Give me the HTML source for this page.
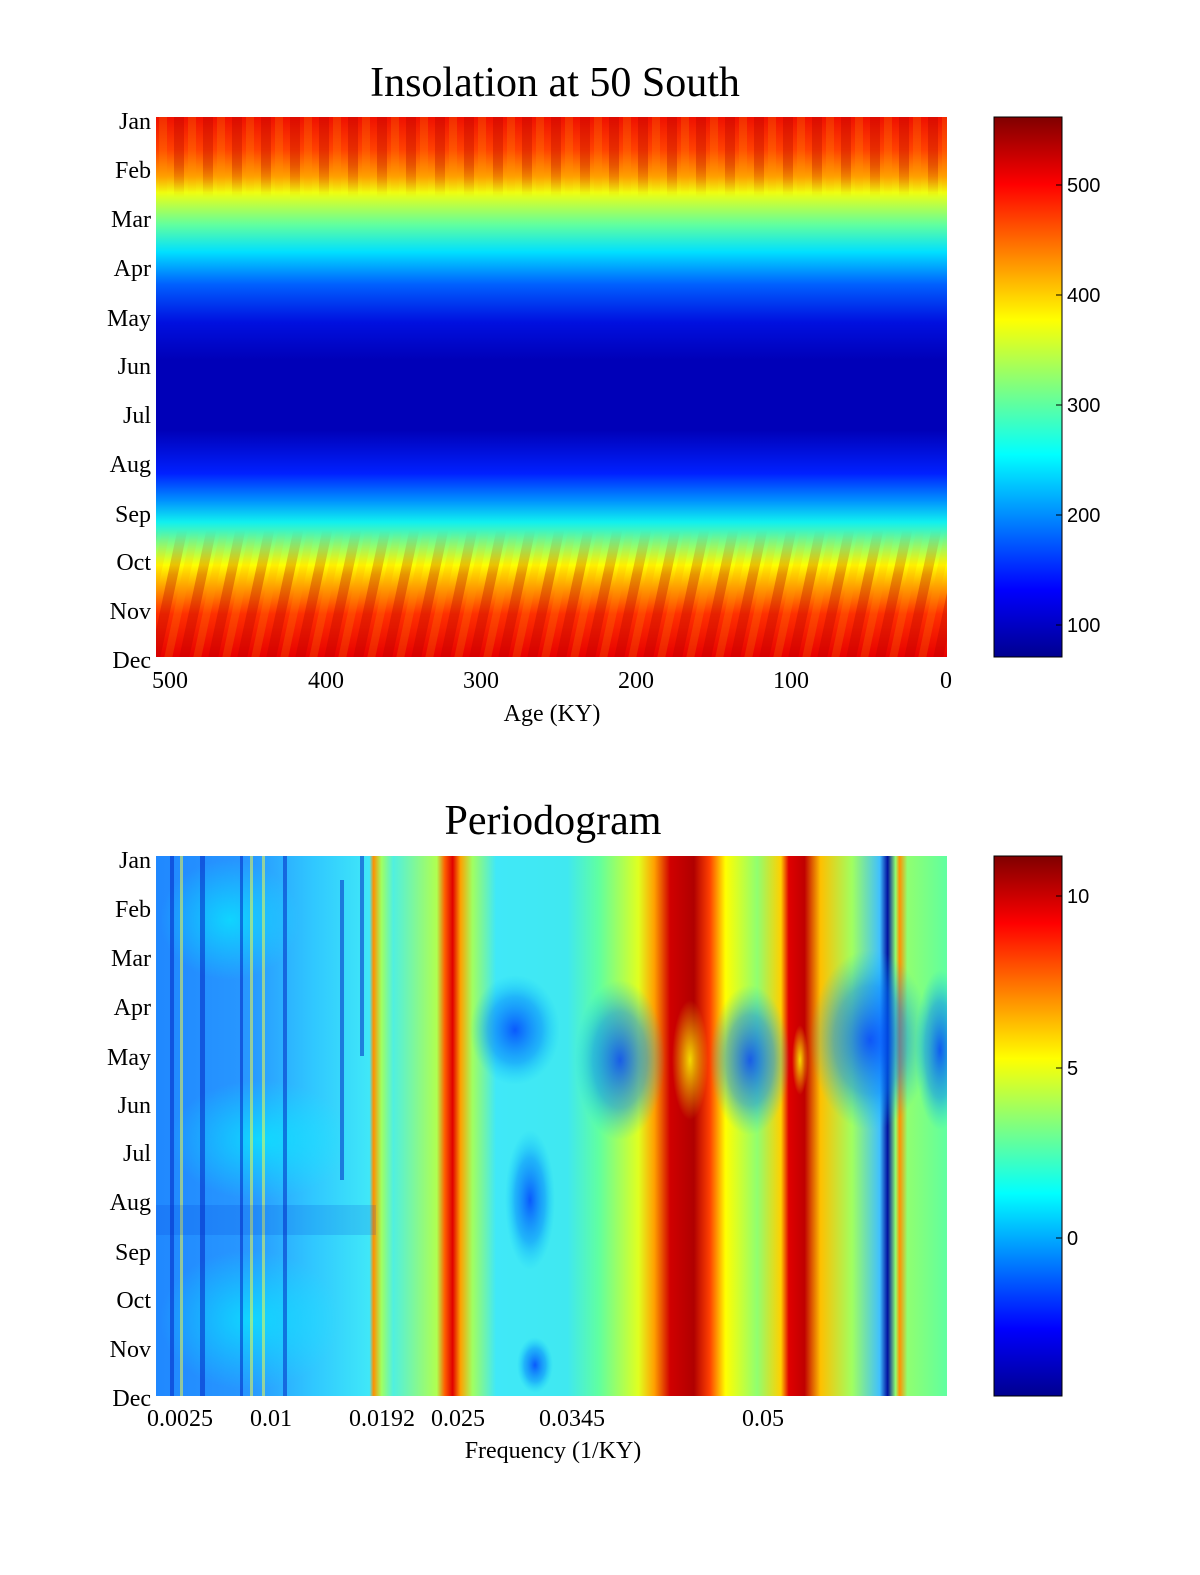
<!DOCTYPE html>
<html><head><meta charset="utf-8"><style>
body{margin:0;background:#fff;}
svg{display:block}
.s{font-family:"Liberation Serif",serif;fill:#000}
.a{font-family:"Liberation Sans",sans-serif;fill:#000;font-size:20px}
</style></head><body>
<svg width="1200" height="1575" viewBox="0 0 1200 1575" xmlns="http://www.w3.org/2000/svg">
<defs>
<linearGradient id="topv" x1="0" y1="0" x2="0" y2="1">
<stop offset="0" stop-color="#f01000"/>
<stop offset="0.06" stop-color="#ff4000"/>
<stop offset="0.11" stop-color="#ffa000"/>
<stop offset="0.14" stop-color="#f0ff10"/>
<stop offset="0.20" stop-color="#60ffa0"/>
<stop offset="0.25" stop-color="#00e0ff"/>
<stop offset="0.31" stop-color="#0060ff"/>
<stop offset="0.38" stop-color="#0010e0"/>
<stop offset="0.45" stop-color="#0000b8"/>
<stop offset="0.58" stop-color="#0000b8"/>
<stop offset="0.66" stop-color="#0020ff"/>
<stop offset="0.71" stop-color="#0090ff"/>
<stop offset="0.75" stop-color="#10f0f0"/>
<stop offset="0.80" stop-color="#a0ff60"/>
<stop offset="0.83" stop-color="#ffff00"/>
<stop offset="0.87" stop-color="#ffa000"/>
<stop offset="0.92" stop-color="#ff3000"/>
<stop offset="1" stop-color="#e80000"/>
</linearGradient>
<linearGradient id="jet" x1="0" y1="1" x2="0" y2="0">
<stop offset="0" stop-color="#00008f"/>
<stop offset="0.125" stop-color="#0000ff"/>
<stop offset="0.375" stop-color="#00ffff"/>
<stop offset="0.625" stop-color="#ffff00"/>
<stop offset="0.875" stop-color="#ff0000"/>
<stop offset="1" stop-color="#800000"/>
</linearGradient>
<pattern id="str" width="29" height="10" patternUnits="userSpaceOnUse">
<rect x="0" y="0" width="10" height="10" fill="#b00000" opacity="0.3"/>
<rect x="14" y="0" width="8" height="10" fill="#ffa000" opacity="0.2"/>
</pattern>
<pattern id="str2" width="29" height="10" patternUnits="userSpaceOnUse" patternTransform="skewX(-12)">
<rect x="0" y="0" width="10" height="10" fill="#b00000" opacity="0.3"/>
<rect x="14" y="0" width="8" height="10" fill="#ffa000" opacity="0.2"/>
</pattern>
<linearGradient id="fadeT" x1="0" y1="0" x2="0" y2="1">
<stop offset="0" stop-color="#fff"/><stop offset="0.6" stop-color="#fff"/><stop offset="1" stop-color="#000"/>
</linearGradient>
<linearGradient id="fadeB" x1="0" y1="0" x2="0" y2="1">
<stop offset="0" stop-color="#000"/><stop offset="0.35" stop-color="#fff"/><stop offset="1" stop-color="#fff"/>
</linearGradient>
<mask id="mT"><rect x="156" y="117" width="791" height="80" fill="url(#fadeT)"/></mask>
<mask id="mB"><rect x="156" y="530" width="791" height="127" fill="url(#fadeB)"/></mask>
<linearGradient id="bot" x1="0" y1="0" x2="1" y2="0">
<stop offset="0" stop-color="#2088ff"/>
<stop offset="0.12" stop-color="#2898ff"/>
<stop offset="0.20" stop-color="#30c8ff"/>
<stop offset="0.27" stop-color="#40e8f8"/>
<stop offset="0.275" stop-color="#ff9000"/>
<stop offset="0.285" stop-color="#a0ff60"/>
<stop offset="0.30" stop-color="#50f0e0"/>
<stop offset="0.355" stop-color="#b0ff50"/>
<stop offset="0.365" stop-color="#ff6000"/>
<stop offset="0.375" stop-color="#e00000"/>
<stop offset="0.385" stop-color="#ffa000"/>
<stop offset="0.40" stop-color="#a0ff60"/>
<stop offset="0.43" stop-color="#40e8f8"/>
<stop offset="0.52" stop-color="#40e8f0"/>
<stop offset="0.56" stop-color="#60ffa0"/>
<stop offset="0.61" stop-color="#e0ff20"/>
<stop offset="0.63" stop-color="#ffa000"/>
<stop offset="0.65" stop-color="#d00000"/>
<stop offset="0.68" stop-color="#b00000"/>
<stop offset="0.70" stop-color="#ff4000"/>
<stop offset="0.72" stop-color="#ffff00"/>
<stop offset="0.76" stop-color="#90ff70"/>
<stop offset="0.79" stop-color="#ffd000"/>
<stop offset="0.80" stop-color="#e00000"/>
<stop offset="0.82" stop-color="#c00000"/>
<stop offset="0.84" stop-color="#ffc000"/>
<stop offset="0.88" stop-color="#a0ff60"/>
<stop offset="0.915" stop-color="#40c0ff"/>
<stop offset="0.925" stop-color="#0010a0"/>
<stop offset="0.935" stop-color="#90ff70"/>
<stop offset="0.94" stop-color="#ff9000"/>
<stop offset="0.95" stop-color="#90ff70"/>
<stop offset="1" stop-color="#60ffa0"/>
</linearGradient>
<radialGradient id="bl"><stop offset="0" stop-color="#0040ff" stop-opacity="0.85"/><stop offset="0.6" stop-color="#0080ff" stop-opacity="0.5"/><stop offset="1" stop-color="#00c0ff" stop-opacity="0"/></radialGradient>
<radialGradient id="ye"><stop offset="0" stop-color="#ffff00" stop-opacity="0.85"/><stop offset="1" stop-color="#ffff00" stop-opacity="0"/></radialGradient>
<radialGradient id="cy"><stop offset="0" stop-color="#00ffff" stop-opacity="0.6"/><stop offset="1" stop-color="#00ffff" stop-opacity="0"/></radialGradient>
<clipPath id="cb"><rect x="156" y="856" width="791" height="540"/></clipPath>
</defs>

<text class="s" x="555" y="96" font-size="42" text-anchor="middle">Insolation at 50 South</text>
<rect x="156" y="117" width="791" height="540" fill="url(#topv)"/>
<rect x="156" y="117" width="791" height="80" fill="url(#str)" mask="url(#mT)"/>
<rect x="156" y="530" width="791" height="127" fill="url(#str2)" mask="url(#mB)"/>
<g class="s" font-size="24" text-anchor="end">
<text x="151" y="129">Jan</text><text x="151" y="178">Feb</text><text x="151" y="227">Mar</text><text x="151" y="276">Apr</text><text x="151" y="326">May</text><text x="151" y="374">Jun</text><text x="151" y="423">Jul</text><text x="151" y="472">Aug</text><text x="151" y="522">Sep</text><text x="151" y="570">Oct</text><text x="151" y="619">Nov</text><text x="151" y="668">Dec</text>
</g>
<g class="s" font-size="24" text-anchor="middle">
<text x="170" y="688">500</text><text x="326" y="688">400</text><text x="481" y="688">300</text><text x="636" y="688">200</text><text x="791" y="688">100</text><text x="946" y="688">0</text>
<text x="552" y="721">Age (KY)</text>
</g>
<rect x="994" y="117" width="68" height="540" fill="url(#jet)" stroke="#000"/>
<g stroke="#000"><line x1="1056" y1="185" x2="1062" y2="185"/><line x1="1056" y1="295" x2="1062" y2="295"/><line x1="1056" y1="405" x2="1062" y2="405"/><line x1="1056" y1="515" x2="1062" y2="515"/><line x1="1056" y1="625" x2="1062" y2="625"/></g>
<g class="a"><text x="1067" y="192">500</text><text x="1067" y="302">400</text><text x="1067" y="412">300</text><text x="1067" y="522">200</text><text x="1067" y="632">100</text></g>

<text class="s" x="553" y="834" font-size="42" text-anchor="middle">Periodogram</text>
<rect x="156" y="856" width="791" height="540" fill="url(#bot)"/>
<g clip-path="url(#cb)">
<ellipse cx="230" cy="920" rx="70" ry="60" fill="url(#cy)"/>
<ellipse cx="260" cy="1140" rx="90" ry="60" fill="url(#cy)"/>
<ellipse cx="250" cy="1320" rx="90" ry="70" fill="url(#cy)"/>
<ellipse cx="620" cy="1060" rx="45" ry="80" fill="url(#bl)"/>
<ellipse cx="750" cy="1060" rx="40" ry="75" fill="url(#bl)"/>
<ellipse cx="870" cy="1040" rx="60" ry="90" fill="url(#bl)"/>
<ellipse cx="940" cy="1050" rx="25" ry="80" fill="url(#bl)"/>
<ellipse cx="515" cy="1030" rx="45" ry="55" fill="url(#bl)"/>
<ellipse cx="530" cy="1200" rx="25" ry="70" fill="url(#bl)"/>
<ellipse cx="535" cy="1365" rx="18" ry="28" fill="url(#bl)"/>
<ellipse cx="690" cy="1060" rx="18" ry="60" fill="url(#ye)"/>
<ellipse cx="800" cy="1060" rx="8" ry="35" fill="url(#ye)"/>
<g fill="#0020c0" opacity="0.5">
<rect x="170" y="856" width="4" height="540"/><rect x="200" y="856" width="5" height="540"/><rect x="240" y="856" width="3" height="540"/><rect x="283" y="856" width="4" height="540"/><rect x="340" y="880" width="4" height="300"/><rect x="360" y="856" width="4" height="200"/>
</g>
<g fill="#ffff40" opacity="0.5">
<rect x="180" y="856" width="3" height="540"/><rect x="250" y="856" width="3" height="540"/><rect x="262" y="856" width="3" height="540"/>
</g>
<rect x="156" y="1205" width="220" height="30" fill="#0030d0" opacity="0.15"/>
</g>
<g class="s" font-size="24" text-anchor="end">
<text x="151" y="868">Jan</text><text x="151" y="917">Feb</text><text x="151" y="966">Mar</text><text x="151" y="1015">Apr</text><text x="151" y="1065">May</text><text x="151" y="1113">Jun</text><text x="151" y="1161">Jul</text><text x="151" y="1210">Aug</text><text x="151" y="1260">Sep</text><text x="151" y="1308">Oct</text><text x="151" y="1357">Nov</text><text x="151" y="1406">Dec</text>
</g>
<g class="s" font-size="24" text-anchor="middle">
<text x="180" y="1426">0.0025</text><text x="271" y="1426">0.01</text><text x="382" y="1426">0.0192</text><text x="458" y="1426">0.025</text><text x="572" y="1426">0.0345</text><text x="763" y="1426">0.05</text>
<text x="553" y="1458">Frequency (1/KY)</text>
</g>
<rect x="994" y="856" width="68" height="540" fill="url(#jet)" stroke="#000"/>
<g stroke="#000"><line x1="1056" y1="896" x2="1062" y2="896"/><line x1="1056" y1="1068" x2="1062" y2="1068"/><line x1="1056" y1="1238" x2="1062" y2="1238"/></g>
<g class="a"><text x="1067" y="903">10</text><text x="1067" y="1075">5</text><text x="1067" y="1245">0</text></g>
</svg>
</body></html>
